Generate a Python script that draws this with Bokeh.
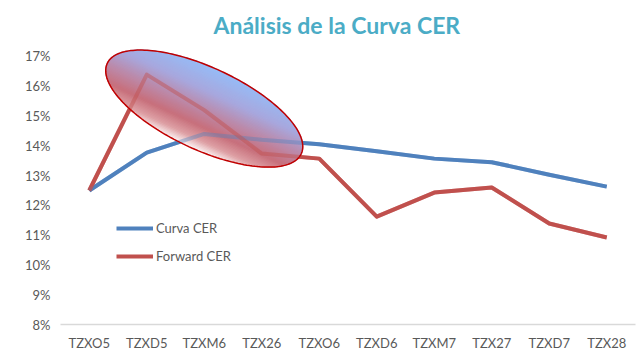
import numpy as np
from bokeh.plotting import figure
from bokeh.models import FixedTicker, PrintfTickFormatter, Legend, LegendItem
from bokeh.embed import file_html
from bokeh.resources import INLINE

# ---------------- data ----------------
categories = ["TZXO5", "TZXD5", "TZXM6", "TZX26", "TZXO6",
              "TZXD6", "TZXM7", "TZX27", "TZXD7", "TZX28"]
curva_cer = [12.50, 13.77, 14.40, 14.20, 14.05, 13.82, 13.57, 13.45, 13.03, 12.63]
forward_cer = [12.50, 16.39, 15.20, 13.74, 13.57, 11.62, 12.43, 12.60, 11.39, 10.92]
y_ticks = [8, 9, 10, 11, 12, 13, 14, 15, 16, 17]

# highlight ellipse (annotation): centred on TZXM6
ell_category = "TZXM6"
ell_center_y = 15.25

# ---------------- layout ----------------
BORDER_L, BORDER_R, BORDER_T, BORDER_B = 60, 5, 46, 40
W, H = 640, 364
FRAME_W = W - BORDER_L - BORDER_R
FRAME_H = H - BORDER_T - BORDER_B
PX_PER_PCT = 29.78
X_MIN, X_MAX = -0.5, len(categories) - 0.5
Y_MIN = 8
Y_MAX = Y_MIN + FRAME_H / PX_PER_PCT
px_x = FRAME_W / (X_MAX - X_MIN)
px_y = PX_PER_PCT

x_idx = list(range(len(categories)))

p = figure(width=W, height=H, output_backend="svg", toolbar_location=None,
           x_range=(X_MIN, X_MAX), y_range=(Y_MIN, Y_MAX),
           min_border_left=BORDER_L, min_border_right=BORDER_R,
           min_border_top=BORDER_T, min_border_bottom=BORDER_B)
p.outline_line_color = None
p.background_fill_color = "white"
p.border_fill_color = "white"
p.xgrid.visible = False
p.ygrid.visible = False

p.title.text = "Análisis de la Curva CER"
p.title.align = "left"
p.title.text_font = "Lato"
p.title.text_font_style = "bold"
p.title.text_font_size = "23px"
p.title.text_color = "#4BACC6"
p.title.offset = 153
p.title.standoff = 15

# axes
p.xaxis.ticker = FixedTicker(ticks=x_idx)
p.xaxis.major_label_overrides = {i: c for i, c in enumerate(categories)}
p.xaxis.axis_line_color = "#d9d9d9"
p.xaxis.axis_line_width = 1.5
p.xaxis.major_tick_line_color = None
p.xaxis.minor_tick_line_color = None
p.xaxis.major_tick_out = 0
p.xaxis.major_label_standoff = 10
p.yaxis.ticker = FixedTicker(ticks=y_ticks)
p.yaxis.formatter = PrintfTickFormatter(format="%d%%")
p.yaxis.axis_line_color = None
p.yaxis.major_tick_line_color = None
p.yaxis.minor_tick_line_color = None
p.yaxis.major_tick_out = 0
p.yaxis.major_label_standoff = 10
for ax in (p.xaxis[0], p.yaxis[0]):
    ax.major_label_text_font = "Lato"
    ax.major_label_text_font_size = "13px"
    ax.major_label_text_color = "#595959"

BLUE = "#4F81BD"
RED = "#C0504D"

r_blue = p.line(x_idx, curva_cer, line_color=BLUE, line_width=4, line_join="round")
r_red = p.line(x_idx, forward_cer, line_color=RED, line_width=4, line_join="round")

# ---------------- gradient ellipse ----------------
a_px, b_px = 107.0, 41.0
theta = np.deg2rad(25.0)
e1 = np.array([np.cos(theta), -np.sin(theta)])
e2 = np.array([np.sin(theta), np.cos(theta)])
cx = categories.index(ell_category)
cy = ell_center_y

def to_data(u, v):
    dx = u * e1[0] + v * e2[0]
    dy = u * e1[1] + v * e2[1]
    return cx + dx / px_x, cy + dy / px_y

stops_t = [0.0, 0.30, 0.52, 0.72, 0.88, 1.0]
stops_c = [(150, 189, 248), (168, 168, 222), (188, 138, 170),
           (200, 112, 124), (222, 160, 165), (252, 244, 244)]

def grad_color(t):
    r = np.interp(t, stops_t, [c[0] for c in stops_c])
    g = np.interp(t, stops_t, [c[1] for c in stops_c])
    b = np.interp(t, stops_t, [c[2] for c in stops_c])
    return "#%02x%02x%02x" % (int(r), int(g), int(b))

N = 60
xs, ys, cols = [], [], []
edges = np.linspace(b_px, -b_px, N + 1)
for k in range(N):
    v0, v1 = edges[k], edges[k + 1]
    vs = np.linspace(v0, v1, 5)
    us = a_px * np.sqrt(np.clip(1 - (vs / b_px) ** 2, 0, None))
    u_poly = np.concatenate([us, -us[::-1]])
    v_poly = np.concatenate([vs, vs[::-1]])
    X, Y = to_data(u_poly, v_poly)
    xs.append(list(X))
    ys.append(list(Y))
    cols.append(grad_color((k + 0.5) / N))

p.patches(xs, ys, fill_color=cols, line_color=cols, line_width=1.2,
          fill_alpha=1.0, line_alpha=1.0)

# lines showing through the ellipse
p.line(x_idx, curva_cer, line_color=BLUE, line_width=4, line_alpha=0.4, line_join="round")
p.line(x_idx, forward_cer, line_color=RED, line_width=4, line_alpha=0.45, line_join="round")

tt = np.linspace(0, 2 * np.pi, 200)
OX, OY = to_data(a_px * np.cos(tt), b_px * np.sin(tt))
p.line(list(OX), list(OY), line_color="#C00000", line_width=1.5)

legend = Legend(items=[LegendItem(label="Curva CER", renderers=[r_blue]),
                       LegendItem(label="Forward CER", renderers=[r_red])],
                location=(56, 58), padding=0, margin=0, spacing=8,
                glyph_width=37, glyph_height=20, label_height=20,
                label_standoff=3, border_line_color=None,
                background_fill_alpha=0.0,
                label_text_font="Lato", label_text_font_size="13px",
                label_text_color="#595959")
p.add_layout(legend)

open("out.html", "w").write(file_html(p, INLINE))
